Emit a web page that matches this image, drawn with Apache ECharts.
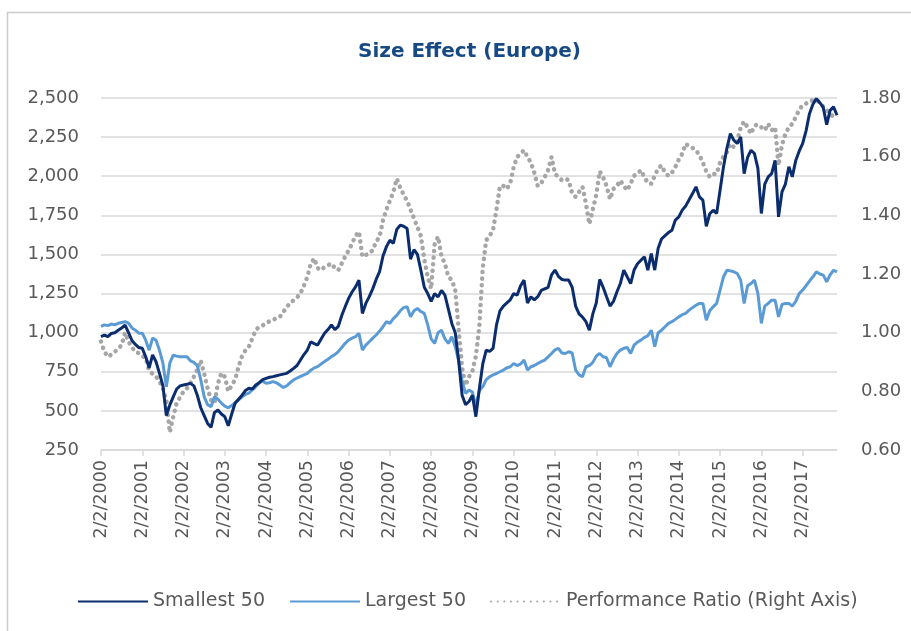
<html>
<head>
    <meta charset="UTF-8">
    <title>Size Effect (Europe)</title>
    <style>
        body { margin: 0; background: #fff; overflow: hidden; }
        #main { width: 911px; height: 631px; }
    </style>
    <script src="https://cdn.jsdelivr.net/npm/echarts@6/dist/echarts.min.js"></script>
</head>
<body>
<div id="main"></div>
<script>
    // monthly readings, Feb 2000 .. Dec 2017
    var years = [2000, 2001, 2002, 2003, 2004, 2005, 2006, 2007, 2008, 2009,
        2010, 2011, 2012, 2013, 2014, 2015, 2016, 2017];
    var lastMonth = 12; // data stops in Dec 2017

    var smallest50 = [
        975, 985, 975, 995, 1000, 1015, 1030, 1048, 1000, 950, 925, 905,
        900, 846, 775, 858, 814, 740, 660, 470, 537, 590, 640, 660,
        665, 670, 676, 660, 600, 520, 470, 420, 395, 490, 505, 480,
        463, 405, 480, 550, 575, 600, 630, 645, 640, 665, 680, 700,
        708, 715, 719, 725, 730, 735, 740, 755, 772, 790, 825, 860,
        889, 942, 930, 921, 960, 996, 1020, 1049, 1020, 1040, 1110, 1166,
        1219, 1260, 1293, 1336, 1123, 1187, 1230, 1280, 1340, 1390, 1490, 1550,
        1591, 1570, 1660, 1687, 1680, 1666, 1470, 1530, 1500, 1400, 1290, 1250,
        1200, 1250, 1229, 1270, 1240, 1150, 1059, 1000, 820, 600, 540, 560,
        600, 463, 640, 800, 888, 880, 900, 1050, 1140, 1170, 1190, 1210,
        1250, 1240, 1300, 1336, 1190, 1229, 1210, 1230, 1270, 1280, 1290, 1370,
        1400, 1360, 1340, 1336, 1336, 1290, 1170, 1120, 1100, 1070, 1016, 1120,
        1190, 1340, 1290, 1229, 1170, 1200, 1260, 1314, 1399, 1357, 1314, 1400,
        1440, 1463, 1485, 1399, 1506, 1400, 1540, 1600, 1620, 1640, 1655, 1720,
        1740, 1783, 1810, 1850, 1889, 1932, 1868, 1847, 1680, 1760, 1783, 1762,
        1910, 2060, 2180, 2272, 2230, 2209, 2251, 2017, 2120, 2166, 2145, 2050,
        1762, 1950, 1996, 2017, 2102, 1740, 1900, 1950, 2060, 1996, 2100, 2160,
        2209, 2290, 2400, 2460, 2496, 2470, 2440, 2330, 2421, 2443, 2390
    ];

    var largest50 = [
        1040, 1050, 1045, 1055, 1050, 1060, 1065, 1070, 1061, 1030, 1016, 997,
        997, 952, 888, 965, 952, 888, 805, 654, 805, 856, 850, 846,
        846, 846, 820, 810, 790, 700, 590, 540, 526, 590, 575, 550,
        530, 520, 535, 550, 570, 590, 605, 614, 635, 654, 680, 690,
        676, 680, 687, 680, 665, 650, 660, 680, 698, 710, 720, 730,
        740, 760, 775, 783, 800, 815, 830, 847, 860, 879, 905, 932,
        953, 965, 974, 996, 889, 920, 942, 965, 985, 1010, 1038, 1070,
        1059, 1090, 1110, 1140, 1160, 1166, 1102, 1140, 1155, 1135, 1123, 1050,
        960, 931, 1000, 1016, 960, 931, 974, 910, 820, 690, 612, 633,
        620, 527, 630, 654, 700, 718, 730, 739, 750, 761, 775, 782,
        803, 790, 800, 825, 761, 782, 790, 803, 815, 825, 845, 867,
        890, 899, 870, 867, 878, 870, 761, 730, 718, 782, 790, 810,
        850, 867, 846, 840, 782, 830, 867, 888, 900, 905, 867, 920,
        940, 952, 970, 980, 1016, 910, 1000, 1016, 1038, 1059, 1070, 1085,
        1101, 1115, 1123, 1144, 1160, 1175, 1187, 1187, 1080, 1140, 1165, 1187,
        1272, 1357, 1399, 1395, 1389, 1378, 1336, 1187, 1300, 1314, 1336, 1250,
        1059, 1170, 1187, 1208, 1208, 1101, 1180, 1187, 1187, 1170, 1200, 1250,
        1272, 1300, 1330, 1357, 1389, 1375, 1368, 1325, 1370, 1399, 1389
    ];

    var perfRatio = [
        0.97, 0.935, 0.918, 0.925, 0.935, 0.945, 0.958, 1.0, 0.97, 0.95, 0.935, 0.93,
        0.92, 0.915, 0.87, 0.86, 0.85, 0.835, 0.81, 0.77, 0.66, 0.713, 0.76, 0.78,
        0.80, 0.81, 0.827, 0.85, 0.873, 0.906, 0.86, 0.81, 0.77, 0.76, 0.827, 0.862,
        0.85, 0.80, 0.82, 0.84, 0.884, 0.92, 0.94, 0.952, 0.98, 1.009, 1.02, 1.025,
        1.03, 1.04, 1.043, 1.05, 1.054, 1.07, 1.088, 1.10, 1.111, 1.12, 1.134, 1.16,
        1.19, 1.236, 1.253, 1.22, 1.213, 1.224, 1.23, 1.236, 1.22, 1.213, 1.236, 1.26,
        1.28, 1.304, 1.33, 1.344, 1.259, 1.265, 1.27, 1.281, 1.31, 1.327, 1.383, 1.42,
        1.45, 1.48, 1.525, 1.495, 1.47, 1.45, 1.42, 1.39, 1.36, 1.33, 1.25, 1.19,
        1.15, 1.30, 1.327, 1.26, 1.236, 1.19, 1.18, 1.145, 1.009, 0.88, 0.82, 0.85,
        0.87, 0.92, 1.02, 1.22, 1.315, 1.33, 1.35, 1.42, 1.50, 1.50, 1.49, 1.51,
        1.565, 1.599, 1.61, 1.622, 1.599, 1.58, 1.545, 1.50, 1.51, 1.53, 1.554, 1.599,
        1.542, 1.53, 1.52, 1.525, 1.52, 1.474, 1.463, 1.48, 1.497, 1.44, 1.37, 1.42,
        1.47, 1.55, 1.53, 1.50, 1.455, 1.49, 1.50, 1.519, 1.50, 1.485, 1.508, 1.535,
        1.542, 1.554, 1.53, 1.51, 1.508, 1.535, 1.56, 1.57, 1.545, 1.535, 1.545, 1.565,
        1.59, 1.61, 1.644, 1.635, 1.63, 1.622, 1.605, 1.58, 1.55, 1.531, 1.54, 1.542,
        1.58, 1.60, 1.615, 1.644, 1.633, 1.655, 1.70, 1.72, 1.70, 1.678, 1.705, 1.71,
        1.70, 1.69, 1.712, 1.69, 1.70, 1.57, 1.64, 1.678, 1.70, 1.712, 1.735, 1.76,
        1.775, 1.781, 1.79, 1.792, 1.792, 1.785, 1.77, 1.758, 1.747, 1.735, 1.73
    ];

    // category labels "m/2/yyyy", one per month starting Feb
    var dates = [];
    years.forEach(function (y) {
        for (var mo = 2; mo <= 13; mo++) {
            var yy = mo > 12 ? y + 1 : y;
            var mm = mo > 12 ? mo - 12 : mo;
            if (yy === years[years.length - 1] + 1) continue;
            if (yy === years[years.length - 1] && mm > lastMonth) continue;
            dates.push(mm + '/2/' + yy);
        }
    });

    var font = '"DejaVu Sans", sans-serif';
    var myChart = echarts.init(document.getElementById('main'), null, {renderer: 'canvas'});

    var option = {
        animation: false,
        // chart-area border, runs off the right and bottom edges
        graphic: [{
            type: 'rect',
            silent: true,
            z: -10,
            shape: {x: 7.5, y: 12.5, width: 940, height: 660},
            style: {fill: 'none', stroke: '#cccccc', lineWidth: 1.5}
        }],
        title: {
            text: 'Size Effect (Europe)',
            left: 353,
            top: 37,
            textStyle: {color: '#174A85', fontSize: 20, fontWeight: 'bold', fontFamily: font}
        },
        legend: {
            left: 72,
            top: 587,
            itemWidth: 70,
            itemHeight: 10,
            itemGap: 24,
            itemStyle: {opacity: 0},
            textStyle: {color: '#595959', fontSize: 19, fontFamily: font},
            data: ['Smallest 50', 'Largest 50', 'Performance Ratio (Right Axis)']
        },
        grid: {left: 101, right: 74, top: 98, bottom: 181},
        xAxis: {
            type: 'category',
            boundaryGap: false,
            data: dates,
            axisLine: {lineStyle: {color: '#d9d9d9', width: 1.5}},
            axisTick: {interval: 11, length: 6, lineStyle: {color: '#d9d9d9', width: 1.5}},
            axisLabel: {
                interval: 11,
                rotate: 90,
                margin: 10,
                color: '#595959',
                fontSize: 17.5,
                fontFamily: font
            },
            splitLine: {show: false}
        },
        yAxis: [
            {
                type: 'value',
                min: 250,
                max: 2500,
                interval: 250,
                axisLine: {show: false},
                axisTick: {show: false},
                axisLabel: {
                    margin: 22,
                    color: '#595959',
                    fontSize: 18,
                    fontFamily: font,
                    formatter: function (v) { return v.toLocaleString('en-US'); }
                },
                splitLine: {lineStyle: {color: '#d9d9d9', width: 1.5}}
            },
            {
                type: 'value',
                min: 0.6,
                max: 1.8,
                interval: 0.2,
                axisLine: {show: false},
                axisTick: {show: false},
                axisLabel: {
                    margin: 24,
                    color: '#595959',
                    fontSize: 18,
                    fontFamily: font,
                    formatter: function (v) { return v.toFixed(2); }
                },
                splitLine: {show: false}
            }
        ],
        series: [
            {
                name: 'Smallest 50',
                type: 'line',
                yAxisIndex: 0,
                data: smallest50,
                showSymbol: false,
                symbol: 'none',
                lineStyle: {color: '#0B2D6E', width: 3},
                itemStyle: {color: '#0B2D6E'},
                z: 3
            },
            {
                name: 'Largest 50',
                type: 'line',
                yAxisIndex: 0,
                data: largest50,
                showSymbol: false,
                symbol: 'none',
                lineStyle: {color: '#5B9BD5', width: 3},
                itemStyle: {color: '#5B9BD5'},
                z: 2
            },
            {
                name: 'Performance Ratio (Right Axis)',
                type: 'line',
                yAxisIndex: 1,
                data: perfRatio,
                showSymbol: false,
                symbol: 'none',
                lineStyle: {color: '#A6A6A6', width: 4.5, type: [0.1, 6.5], cap: 'round'},
                itemStyle: {color: '#A6A6A6'},
                z: 1
            }
        ]
    };

    myChart.setOption(option);
</script>
</body>
</html>
